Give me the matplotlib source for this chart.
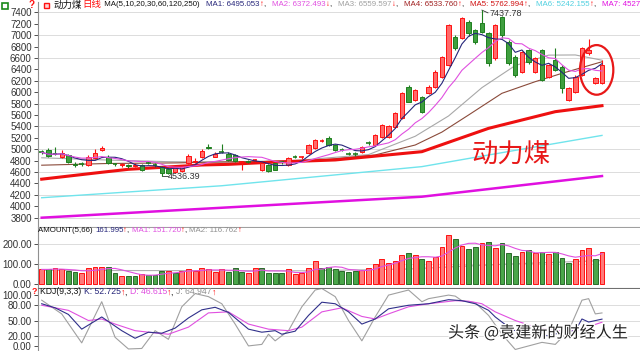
import numpy as np
import pandas as pd
import matplotlib
matplotlib.use("Agg")
import matplotlib.pyplot as plt
import matplotlib.patheffects as pe
from matplotlib.patches import Rectangle, Ellipse

plt.rcParams['font.family'] = ['Liberation Sans', 'Noto Sans CJK SC', 'DejaVu Sans']

# daily candles (index 0..84)
opens  = [4950, 4980, 4930, 4860, 4900, 4745, 4745, 4730, 4850, 4990,
          4870, 4740, 4715, 4720, 4700, 4730, 4770, 4730, 4680, 4660,
          4600, 4620, 4760, 4780, 4870, 5040, 4870, 4965, 4925, 4895,
          4770, 4790, 4795, 4640, 4720, 4750, 4775, 4725, 4868, 4850,
          4928, 5016, 5135, 5191, 5074, 5000, 4930, 4930, 4958, 5115,
          5074, 5220, 5209, 5395, 5545, 6097, 5863, 5920, 5980, 6096,
          6272, 6476, 6973, 6944, 7230, 7090, 7205, 7030, 6593, 7323,
          6885, 6622, 6360, 6740, 6360, 6740, 6272, 6564, 6447, 5863,
          6009, 6301, 6680, 6155, 6155]
highs  = [4990, 5030, 5040, 4980, 4920, 4770, 4770, 4900, 5010, 5060,
          4890, 4760, 4760, 4740, 4750, 4740, 4800, 4750, 4700, 4680,
          4700, 4720, 4920, 4850, 5000, 5090, 4945, 5100, 4945, 4910,
          4790, 4810, 4830, 4765, 4740, 4760, 4790, 4860, 4895, 4880,
          5090, 5175, 5175, 5232, 5090, 5020, 4950, 4950, 5060, 5140,
          5270, 5440, 5430, 5650, 6000, 6125, 6060, 5940, 6120, 6380,
          6640, 7200, 7000, 7320, 7260, 7110, 7437.78, 7060, 7200, 7340,
          6920, 6650, 6730, 6760, 6620, 6760, 6500, 6770, 6470, 6090,
          6300, 6800, 6930, 6260, 6560]
lows   = [4920, 4860, 4900, 4840, 4750, 4680, 4710, 4700, 4830, 4970,
          4740, 4700, 4690, 4670, 4680, 4620, 4740, 4690, 4536.39, 4570,
          4580, 4600, 4740, 4750, 4850, 5000, 4855, 4940, 4800, 4770,
          4640, 4755, 4780, 4620, 4595, 4630, 4745, 4710, 4840, 4835,
          4910, 5000, 5120, 5060, 4975, 4965, 4900, 4885, 4940, 5080,
          5060, 5200, 5190, 5380, 5530, 5820, 5840, 5630, 5960, 6080,
          6250, 6460, 6740, 6930, 6990, 6850, 7030, 6450, 6560, 6950,
          6470, 6260, 6330, 6500, 6340, 6190, 6250, 6370, 5980, 5840,
          5990, 6280, 6650, 6140, 6140]
closes = [4945, 4880, 4915, 4940, 4770, 4725, 4730, 4860, 4930, 5020,
          4760, 4725, 4735, 4700, 4725, 4640, 4760, 4720, 4580, 4590,
          4680, 4700, 4880, 4800, 4970, 5020, 4925, 4950, 4815, 4785,
          4782, 4778, 4810, 4750, 4610, 4640, 4765, 4840, 4858, 4865,
          5074, 5162, 5148, 5074, 4990, 4987, 4917, 4912, 5045, 5103,
          5250, 5425, 5407, 5630, 5980, 5834, 6038, 5660, 6097, 6360,
          6622, 7177, 6770, 7294, 7030, 6885, 7060, 6506, 7177, 7002,
          6506, 6300, 6710, 6535, 6593, 6214, 6476, 6390, 6067, 6067,
          6272, 6768, 6740, 6243, 6476]

# longer moving averages, read at a few candles
ma20_x = [0, 10, 19, 29, 39, 49, 56, 61, 66, 71, 76, 80, 84]
ma20 = [4850, 4810, 4782, 4772, 4811, 4906, 5227, 5583, 6079, 6467, 6649, 6652, 6560]
ma30_x = [0, 10, 20, 28, 40, 50, 56, 60, 64, 69, 74, 78, 84]
ma30 = [4720, 4750, 4760, 4780, 4790, 4900, 5074, 5300, 5600, 5980, 6184, 6330, 6533]
ma60_x = [0, 9, 13, 24, 28, 34, 44, 57, 62, 67, 72, 77, 84]
ma60 = [4475, 4596, 4648, 4724, 4735, 4770, 4812, 4957, 5162, 5366, 5512, 5658, 5763]
ma120_x = [0, 27, 57, 70, 84]
ma120 = [4150, 4360, 4695, 4960, 5242]
ma250_x = [0, 24, 57, 84]
ma250 = [3800, 3955, 4168, 4530]

# traded amount
amount = [73, 73, 78, 73, 65, 62, 53, 78, 85, 85, 85, 57, 42, 42, 42, 48, 45, 45, 65, 67,
          57, 65, 73, 65, 78, 73, 62, 73, 58, 78, 58, 53, 78, 82, 57, 57, 53, 73, 48, 53,
          78, 115, 78, 87, 73, 65, 62, 65, 68, 82, 98, 123, 103, 115, 145, 153, 145, 123, 115, 133,
          183, 245, 223, 190, 175, 187, 203, 208, 182, 207, 153, 140, 158, 170, 157, 158, 148, 158, 132, 107,
          125, 170, 178, 125, 162]
amount_up = ("rgrrggrrrrggrggrgggrgrrrrr"
             "rrgggrrggggrrrrrggggggrrrrrrr"
             "grgrrrrgrggrgrgggrgrgrgggrrrgr")
amount_ma66_x = [0, 40, 55, 70, 84]
amount_ma66 = [68, 66, 75, 100, 117]

# KDJ(9,3,3), read at a few candles
k_x = [0, 2, 4, 6, 9, 12, 14, 16, 18, 20, 22, 24, 26, 28, 31, 33, 35, 36, 38, 40, 42,
       44, 46, 48, 50, 52, 55, 58, 61, 63, 65, 67, 68, 70, 72, 74, 76, 78, 80, 81, 82, 84]
k_val = [83, 75, 62, 33, 57, 30, 15, 27, 25, 35, 55, 71, 76, 66, 33, 27, 30, 23, 29, 60, 86,
         83, 67, 43, 53, 73, 80, 83, 91, 89, 83, 70, 57, 37, 23, 23, 20, 27, 30, 53, 47, 52.7]
d_x = [0, 4, 7, 9, 11, 14, 16, 19, 22, 25, 28, 31, 34, 37, 39, 42, 45, 48, 50, 52, 55,
       58, 62, 64, 66, 68, 71, 74, 77, 80, 82, 84]
d_val = [80, 70, 50, 53, 43, 30, 27, 23, 37, 65, 67, 43, 33, 30, 37, 67, 75, 58, 53, 63, 77,
         83, 89, 88, 83, 67, 50, 37, 30, 30, 38, 46.6]
j_x = [0, 3, 6, 9, 11, 13, 15, 17, 19, 21, 23, 25, 27, 29, 31, 33, 34, 35, 37, 39, 41, 42,
       44, 46, 48, 50, 52, 55, 57, 58, 61, 62, 63, 65, 67, 69, 71, 73, 75, 77, 79, 81, 82, 83, 84]
j_val = [90, 63, 6, 87, 17, -6, -5, 30, 13, 77, 103, 97, 83, 43, 0, 3, 23, 10, 30, 77, 110, 113,
         97, 50, 10, 57, 100, 110, 87, 93, 100, 98, 89, 85, 60, 23, -7, 0, 7, 3, 30, 90, 93, 63, 64.9]

RED = '#ff1010'
GREEN = '#1f7f1f'

W, H = 640, 351
fig = plt.figure(figsize=(6.4, 3.51), dpi=100)


def px_axes(top, bottom):
	return fig.add_axes([38 / W, 1 - bottom / H, 602 / W, (bottom - top) / H])


def style_axes(ax, ticks, labels, grid):
	ax.set_xlim(-0.555, 89.7)
	ax.set_xticks([])
	for s in ['top', 'right']:
		ax.spines[s].set_visible(False)
	ax.spines['left'].set_color('#909090')
	ax.spines['bottom'].set_color('#a0a0a0')
	ax.set_yticks(ticks)
	ax.set_yticklabels(labels)
	ax.tick_params(axis='y', labelsize=7, colors='#333333', length=3, pad=1.5, width=0.6)
	for g in grid:
		ax.axhline(g, color='#dcdcdc', lw=0.7, zorder=0)


def text_run(x, y, parts, size=5.7):
	# write coloured pieces one after the other
	t = fig.text(x / W, 1 - y / H, parts[0][0], color=parts[0][1], fontsize=size, va='center')
	for s, c in parts[1:]:
		t = fig.add_artist(matplotlib.text.Annotation(
			s, xy=(1, 0.5), xycoords=t, color=c, fontsize=size, va='center', ha='left'))
	return t


idx = np.arange(len(closes))

### MAIN PANEL ###
ax = px_axes(2, 227)
style_axes(ax, np.arange(3800, 7401, 200), [str(v) for v in range(3800, 7401, 200)],
           range(3800, 7401, 400))
ax.set_ylim(3637, 7580)

for i in idx:
	o, h, l, c = opens[i], highs[i], lows[i], closes[i]
	up = c >= o
	ec = RED if up else GREEN
	fc = '#ff6a6a' if up else '#3f9f3f'
	ax.vlines(i, l, h, color=ec, lw=0.8, zorder=3)
	if abs(c - o) < 20:
		ax.hlines((o + c) / 2, i - 0.35, i + 0.35, color=ec, lw=1.2, zorder=4)
	else:
		ax.add_patch(Rectangle((i - 0.33, min(o, c)), 0.66, abs(c - o),
		                       fc=fc, ec=ec, lw=0.7, zorder=4))

close_s = pd.Series(closes)
ax.plot(idx, close_s.rolling(5, min_periods=1).mean(), color='#26267a', lw=0.8, zorder=5)
ax.plot(idx, close_s.rolling(10, min_periods=1).mean(), color='#e050e0', lw=0.8, zorder=5)
ax.plot(ma20_x, ma20, color='#a8a8a8', lw=0.8, zorder=2)
ax.plot(ma30_x, ma30, color='#8a4a3a', lw=0.8, zorder=2)
ax.plot(ma60_x, ma60, color='#ee1010', lw=2.2, zorder=2)
ax.plot(ma120_x, ma120, color='#70e4ec', lw=1.0, zorder=2)
ax.plot(ma250_x, ma250, color='#e010e0', lw=1.8, zorder=2)

# extreme labels
ax.plot([66, 66.9], [7437.78, 7390], color='#333333', lw=0.6)
ax.text(67.2, 7370, '7437.78', fontsize=6.5, color='#333333', va='center')
ax.plot([18, 18.9], [4536.39, 4536.39], color='#333333', lw=0.6)
ax.text(18.9, 4530, '4536.39', fontsize=6.5, color='#333333', va='center')

ax.text(70.4, 4900, '动力煤', fontsize=19, color='#e81818', ha='center', va='center',
        family=['Noto Sans CJK SC'])
ax.add_patch(Ellipse((83.2, 6390), 5.0, 870, fill=False, ec='#e81818', lw=1.6, zorder=6))

### AMOUNT PANEL ###
axv = px_axes(228, 288)
style_axes(axv, [0, 100, 200], ['0.00', '100.00', '200.00'], [100, 200])
axv.set_ylim(-20, 280)
axv.spines['bottom'].set_color('#707070')
for i in idx:
	up = amount_up[i] == 'r'
	axv.add_patch(Rectangle((i - 0.36, 0), 0.72, amount[i],
	                        fc='#ff7a7a' if up else '#4aa64a',
	                        ec=RED if up else '#2a6a2a', lw=0.7, zorder=3))
axv.plot(idx, pd.Series(amount).rolling(5, min_periods=1).mean(), color='#e050e0', lw=0.8, zorder=4)
axv.plot(amount_ma66_x, amount_ma66, color='#b0b0b0', lw=0.8, zorder=2)

### KDJ PANEL ###
axk = px_axes(289, 351)
style_axes(axk, [0, 20, 50, 80, 100], ['0.00', '20.00', '50.00', '80.00', '100.00'], [20, 50, 80])
axk.set_ylim(-10, 112)
axk.spines['bottom'].set_visible(False)
axk.plot(j_x, j_val, color='#a0a0a0', lw=0.8)
axk.plot(d_x, d_val, color='#e050e0', lw=0.8)
axk.plot(k_x, k_val, color='#30308a', lw=0.8)

### HEADERS ###
fig.add_artist(Rectangle((2 / W, 1 - 9 / H), 6 / W, 6 / H, transform=fig.transFigure,
                         fill=False, ec='#1a8a1a', lw=1.2))
fig.text(32 / W, 1 - 5 / H, '?', color=RED, fontsize=7, weight='bold', va='center', ha='center')
fig.add_artist(Rectangle((44 / W, 1 - 8 / H), 5 / W, 5 / H, transform=fig.transFigure,
                         fc='#ffd0d0', ec=RED, lw=1.0))
t = text_run(54, 5, [('动力煤', '#111111'), ('日线', RED)], 6.8)
fig.add_artist(matplotlib.text.Annotation(' MA(5,10,20,30,60,120,250)', xy=(1, 0.5), xycoords=t,
                                          color='#111111', fontsize=5.7, va='center', ha='left'))

ma_heads = [(206, 'MA1: 6495.053', '#26267a', '↑'), (272, 'MA2: 6372.493', '#e050e0', '↓'),
            (338, 'MA3: 6559.597', '#a0a0a0', '↓'), (404, 'MA4: 6533.760', '#a02020', '↑'),
            (470, 'MA5: 5762.994', '#d01010', '↑'), (536, 'MA6: 5242.155', '#50d0e0', '↑'),
            (602, 'MA7: 4527', '#e010e0', '')]
for x, s, c, arrow in ma_heads:
	if arrow:
		text_run(x, 5, [(s, c), (arrow, RED), (',', '#111111')])
	else:
		text_run(x, 5, [(s, c)])

text_run(38, 231, [('AMOUNT(5,66) ', '#111111'), ('161.995', '#26267a'), ('↑', RED), (', ', '#111111'),
                   ('MA1: 151.720', '#e050e0'), ('↑', RED), (', ', '#111111'),
                   ('MA2: 116.762', '#909090'), ('↑', RED)])
fig.text(34 / W, 1 - 291 / H, '?', color=RED, fontsize=6.5, weight='bold', va='center', ha='center')
text_run(40, 292, [('KDJ(9,3,3) ', '#111111'), ('K: 52.725', '#26267a'), ('↑', RED), (', ', '#111111'),
                   ('D: 46.615', '#e050e0'), ('↑', RED), (', ', '#111111'),
                   ('J: 64.947', '#909090'), ('↑', RED)], 6.2)

fig.text(448 / W, 1 - 333 / H, '头条 @袁建新的财经人生', fontsize=11.6, color='#222222', va='center',
         family=['Noto Sans CJK SC'],
         path_effects=[pe.withStroke(linewidth=2, foreground='white')])

fig.savefig('out.png', dpi=100)
